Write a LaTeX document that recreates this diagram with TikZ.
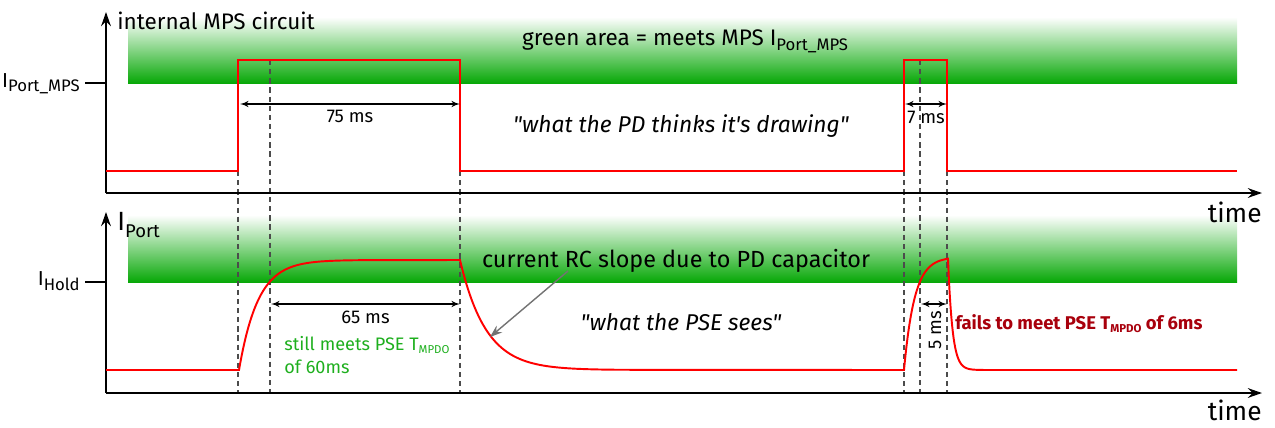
\documentclass[tikz,border=0pt]{standalone}
\usepackage{fontspec}
\setmainfont{Fira Sans}[Ligatures=TeXOff]
\usepackage{xcolor}
\usetikzlibrary{arrows,positioning}
\usetikzlibrary{arrows.meta}
\definecolor{bandgreen}{RGB}{8,168,8}
\definecolor{okgreen}{RGB}{30,175,30}
\definecolor{failred}{RGB}{168,0,12}
\newcommand{\subtxt}[3]{\raisebox{-#2}{\fontsize{#1}{#1}\selectfont #3}}

\begin{document}
\begin{tikzpicture}[x=0.02cm,y=-0.02cm,>=latex',every node/.append style={align=center,inner sep=0pt},
  axis/.style={line width=1.3pt,-{Stealth[length=8pt,width=5.5pt]}},
  band/.style={top color=white,bottom color=bandgreen},
  sig/.style={red,line width=1.1pt},
  guide/.style={black!70,line width=0.6pt,dash pattern=on 3pt off 2.2pt},
  dim/.style={<->,line width=0.7pt},
  pointer/.style={->,>={Stealth[length=7pt,width=5pt]},black!55,line width=0.8pt},
  axl/.style={font=\fontsize{11.5}{13}\selectfont},
  lbl/.style={font=\fontsize{12.8}{15}\selectfont},
  msr/.style={font=\fontsize{10.5}{12}\selectfont},
  head/.style={font=\fontsize{13.3}{16}\selectfont},
  says/.style={font=\fontsize{13}{15}\selectfont\itshape},
  big/.style={font=\fontsize{15}{17}\selectfont},
  note/.style={font=\fontsize{10.3}{13}\selectfont,align=left}]
  \useasboundingbox (0,0) rectangle (1275,427);
  \shade[band] (128,17) rectangle (1237,83);
  \shade[band] (128,215) rectangle (1237,282);

  \coordinate (O1) at (106,193);
  \coordinate (Y1) at (106,12);
  \coordinate (X1) at (1262,193);
  \coordinate (O2) at (106,393);
  \coordinate (Y2) at (106,212);
  \coordinate (X2) at (1262,393);
  \coordinate (tmps) at (85,83);
  \coordinate (thold) at (85,282);

  \draw[guide] (238,171) -- (238,393);
  \draw[guide] (270,60) -- (270,393);
  \draw[guide] (460,171) -- (460,393);
  \draw[guide] (904,171) -- (904,393);
  \draw[guide] (920,60) -- (920,393);
  \draw[guide] (947,171) -- (947,393);

  \draw[axis] (O1) -- (Y1);
  \draw[axis] (O1) -- (X1);
  \draw[axis] (O2) -- (Y2);
  \draw[axis] (O2) -- (X2);
  \draw[line width=1pt] (tmps) -- (tmps -| O1);
  \draw[line width=1pt] (thold) -- (thold -| O2);

  \draw[sig] (106,171) -- (238,171) -- (238,60) -- (460,60) -- (460,171) -- (904,171)
    -- (904,60) -- (947,60) -- (947,171) -- (1237,171);
  \draw[sig] (106,370) -- (239,370)
    -- plot[domain=0:120,samples=90] ({239+\x},{370-110*(1-exp(-\x/19))})
    -- (460,260)
    -- plot[domain=0:160,samples=100] ({460+\x},{260+110*(1-exp(-\x/26))})
    -- (904,370)
    -- plot[domain=0:44,samples=45] ({904+\x},{370-113*(1-exp(-\x/10.5))})
    -- plot[domain=0:70,samples=90] ({948+\x},{259+111*(1-exp(-\x/4.5))})
    -- (1237,370);

  \coordinate (a75) at (240,104);
  \coordinate (b75) at (460,104);
  \coordinate (a7) at (905,104);
  \coordinate (b7) at (947,104);
  \coordinate (a65) at (271,304);
  \coordinate (b65) at (460,304);
  \coordinate (a5) at (921,304);
  \coordinate (b5) at (947,304);
  \path[dim] (a75) edge node[msr,below=0.12cm] {75 ms} (b75);
  \path[dim] (a7) edge node[msr,below=0.14cm] {7 ms} (b7);
  \path[dim] (a65) edge node[msr,below=0.12cm] {65 ms} (b65);
  \path[dim] (a5) edge (b5);
  \node[msr,rotate=90,anchor=east] (l5) at (935,311) {5 ms};

  \node[lbl,anchor=base west] (mps) at (117,29) {internal MPS circuit};
  \node[lbl,anchor=base] (area) at (685,45) {green area = meets MPS I\subtxt{9.5}{3pt}{Port\_MPS}};
  \node[says,anchor=base] (pd) at (681,132) {"what the PD thinks it's drawing"};
  \node[axl,anchor=base east] (lmps) at (80,87) {I\subtxt{9.5}{2.5pt}{Port\_MPS}};
  \node[axl,anchor=base east] (lhold) at (80,285) {I\subtxt{9.5}{3pt}{Hold}};
  \node[big,anchor=base west] (lport) at (117,230) {I\subtxt{10.5}{4.5pt}{Port}};
  \node[big,anchor=base east] (t1) at (1262,222) {time};
  \node[big,anchor=base east] (t2) at (1262,420) {time};

  \node[head,anchor=base] (slope) at (676,267) {current RC slope due to PD capacitor};
  \node[says,anchor=base] (pse) at (681,330) {"what the PSE sees"};
  \node[note,okgreen,anchor=north west] (still) at (284,336) {still meets PSE T\subtxt{6.5}{2pt}{MPDO}\\of 60ms};
  \node[font=\fontsize{10.5}{12}\selectfont\bfseries,failred,anchor=base west] (fail) at (955,329)
    {fails to meet PSE T\subtxt{6.5}{2pt}{MPDO} of 6ms};

  \coordinate (rcfrom) at (568,271);
  \coordinate (rcto) at (490,337);
  \draw[pointer] (rcfrom) -- (rcto);
\end{tikzpicture}
\end{document}
